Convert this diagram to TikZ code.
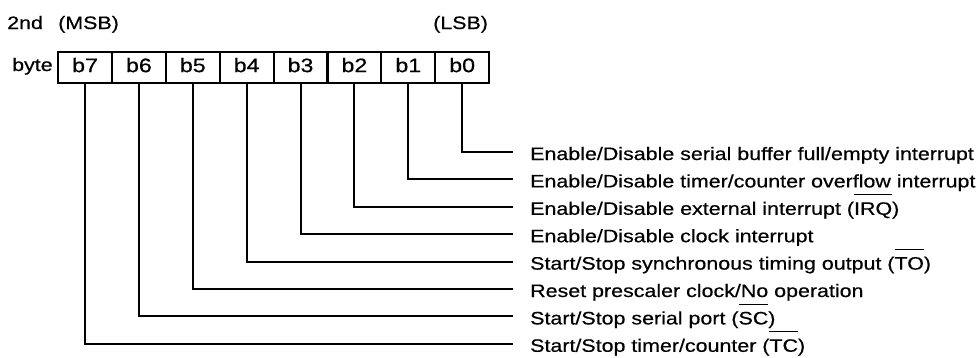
\documentclass[tikz,border=0pt]{standalone}
\usepackage{fontspec}
\setmainfont[FakeStretch=1.19,FakeBold=0.5]{Liberation Sans}
\newcommand\sigbar[1]{\setbox0\hbox{#1}\rlap{\rule[19.5pt]{\wd0}{1.4pt}}\box0}
\begin{document}
\begin{tikzpicture}[x=1pt,y=-1pt,
  lbl/.style={font=\fontsize{18}{20}\selectfont, inner sep=0pt, anchor=base west},
  cell/.style={draw, line width=2.2pt, minimum width=53.875pt, minimum height=31pt,
    inner sep=0pt, text height=13pt, text depth=4pt, anchor=north west,
    font=\fontsize{19.5}{21}\selectfont},
  wire/.style={line width=2pt}]
\useasboundingbox (0,0) rectangle (976,357);
\node[lbl] (h2) at (7,29) {2nd};
\node[lbl] (hm) at (58,29) {(MSB)};
\node[lbl] (hl) at (433,29) {(LSB)};
\node[lbl] (by) at (12,71) {byte};
\foreach \b in {0,...,7}{
  \node[cell] (c\b) at ({57+(7-\b)*53.875},51) {b\b};
  \coordinate (e\b) at (513,{152+27.4*\b});
  \draw[wire] (c\b.south) |- (e\b);
}
\node[lbl] (t0) at (530,160) {Enable/Disable serial buffer full/empty interrupt};
\node[lbl] (t1) at (530,187.4) {Enable/Disable timer/counter overflow interrupt};
\node[lbl] (t2) at (530,214.8) {Enable/Disable external interrupt (\sigbar{IRQ})};
\node[lbl] (t3) at (530,242.2) {Enable/Disable clock interrupt};
\node[lbl] (t4) at (530,269.6) {Start/Stop synchronous timing output (\sigbar{TO})};
\node[lbl] (t5) at (530,297) {Reset prescaler clock/No operation};
\node[lbl] (t6) at (530,324.4) {Start/Stop serial port (\sigbar{SC})};
\node[lbl] (t7) at (530,351.8) {Start/Stop timer/counter (\sigbar{TC})};
\end{tikzpicture}
\end{document}
